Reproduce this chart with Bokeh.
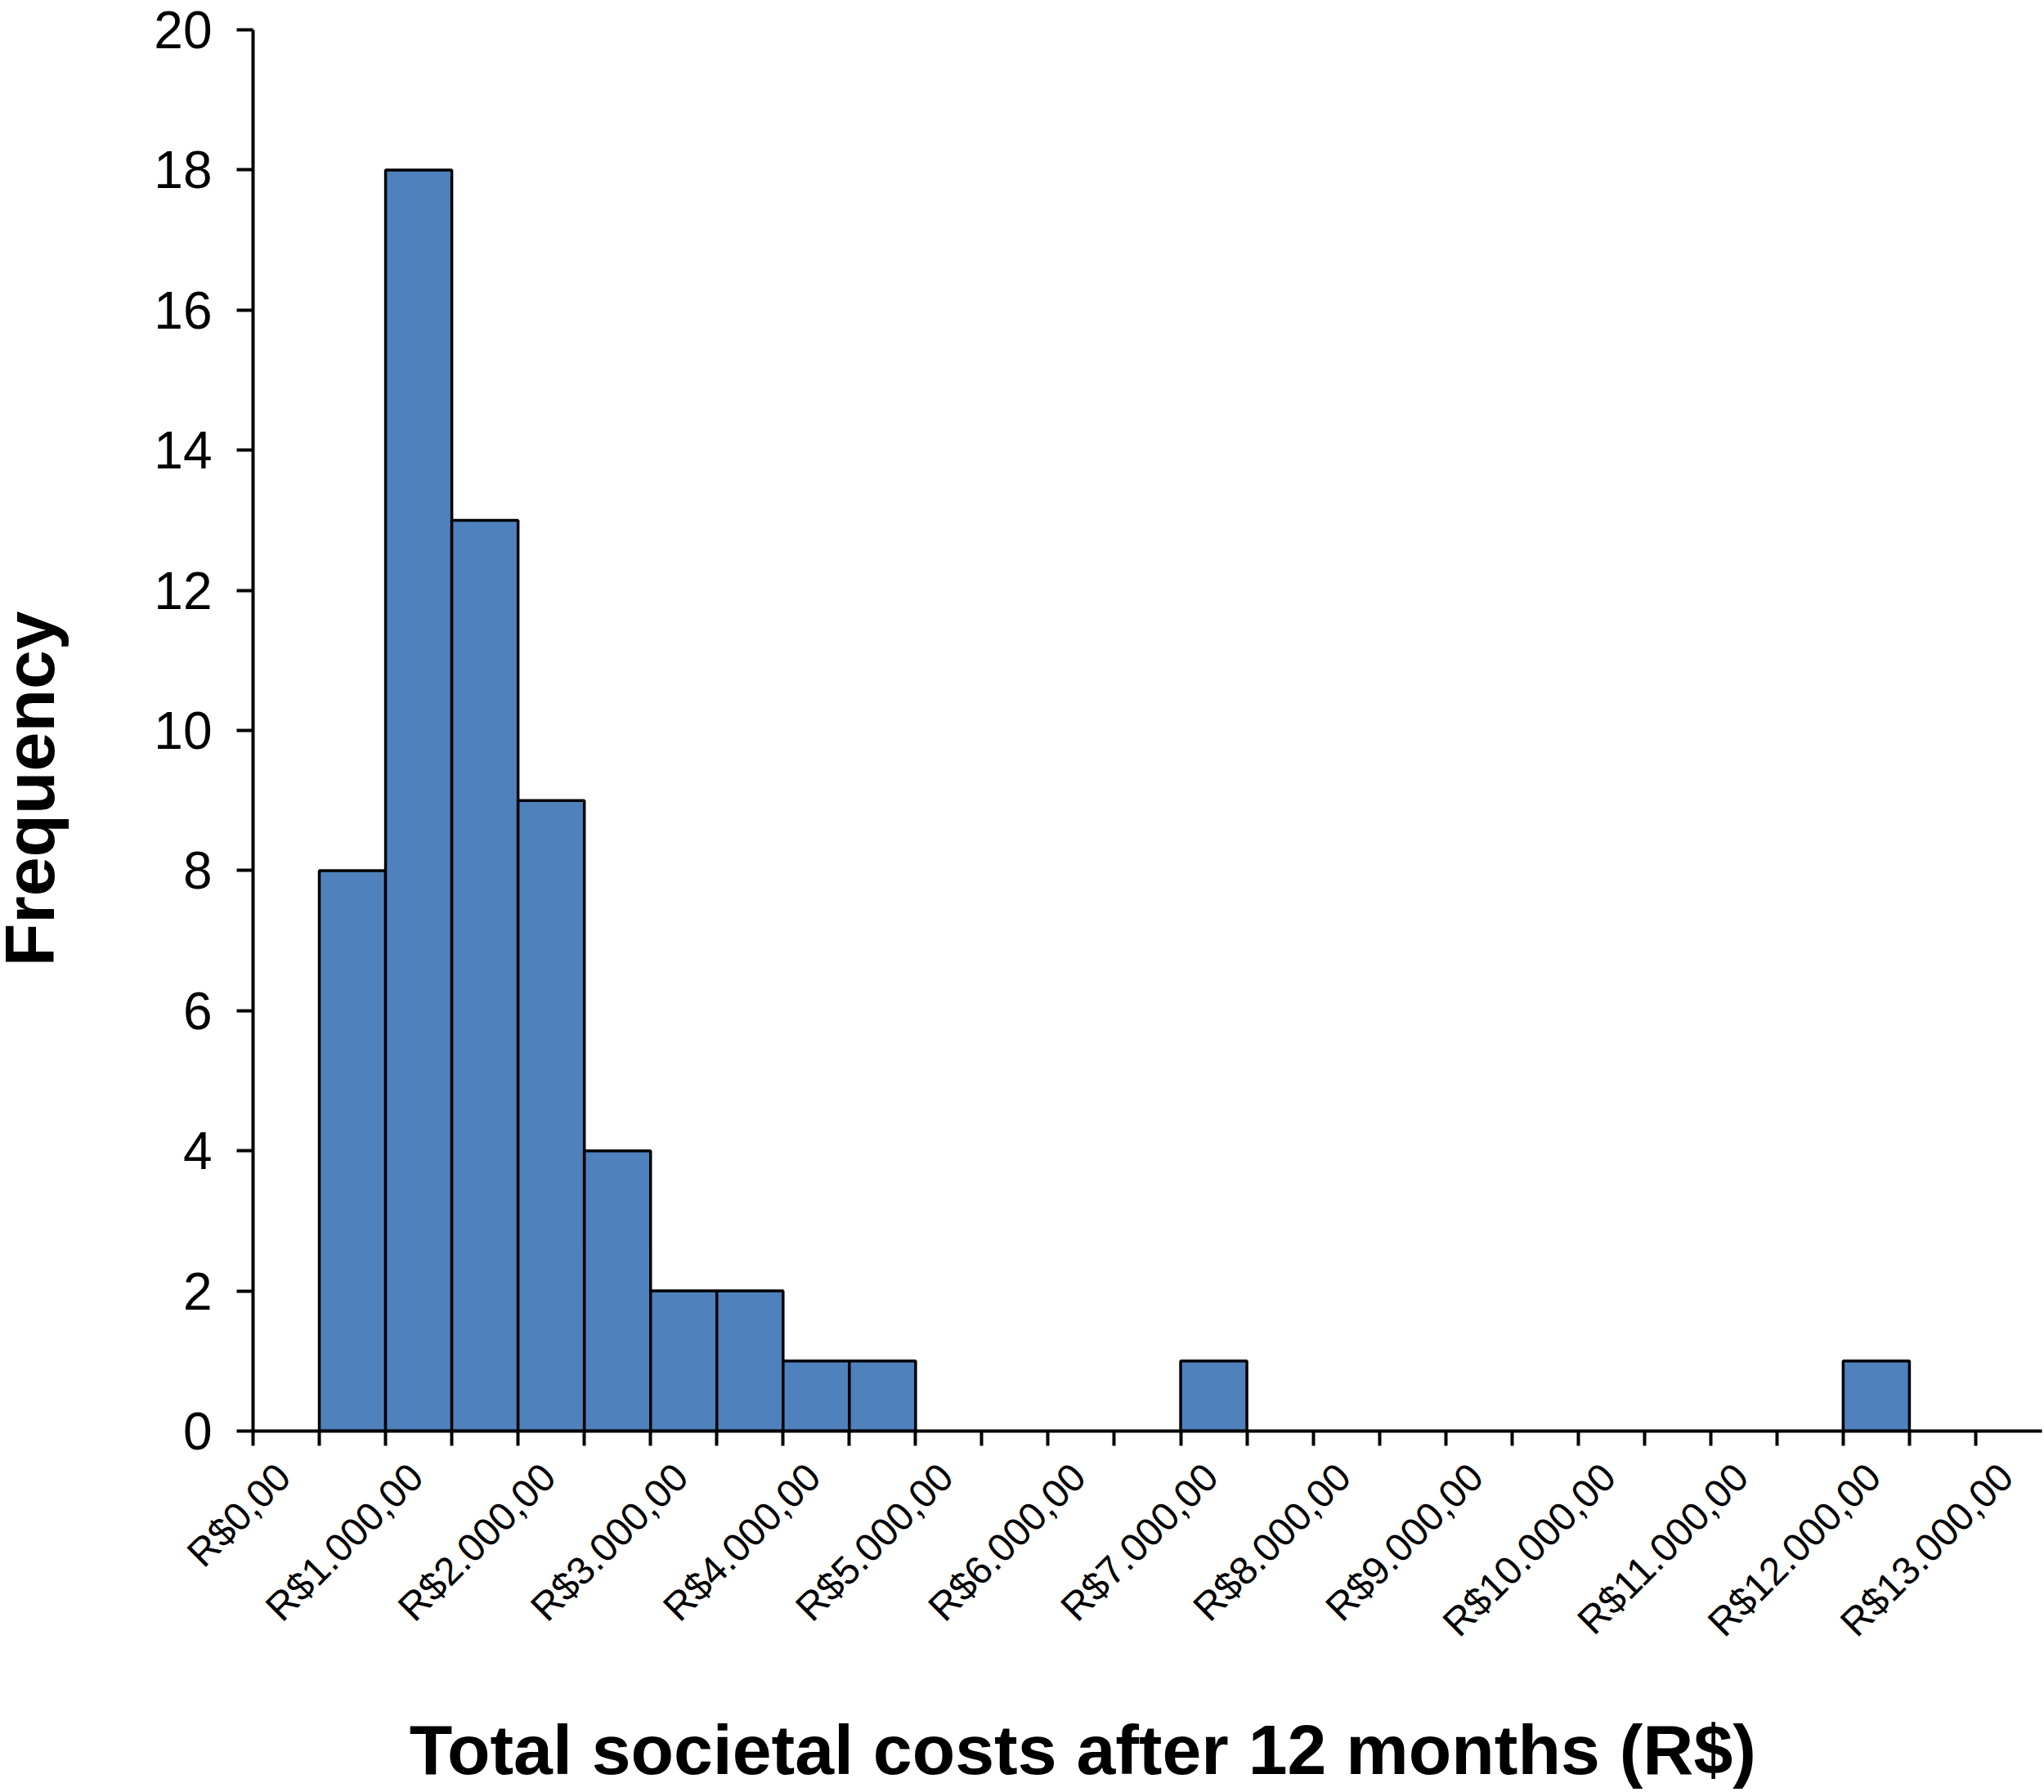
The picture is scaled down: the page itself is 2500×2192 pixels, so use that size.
from math import pi

from bokeh.plotting import figure
from bokeh.layouts import column, row
from bokeh.models import Range1d, LinearAxis, FixedTicker, Label
from bokeh.embed import file_html
from bokeh.resources import INLINE

# histogram of total societal costs (bins of R$500)
bin_left = [500, 1000, 1500, 2000, 2500, 3000, 3500, 4000, 4500, 7000, 12000]
bin_width = 500
frequency = [8, 18, 13, 9, 4, 2, 2, 1, 1, 1, 1]

x_ticks = list(range(0, 13001, 500))
label_values = list(range(0, 13001, 1000))
tick_labels = ["R$0,00", "R$1.000,00", "R$2.000,00", "R$3.000,00", "R$4.000,00",
               "R$5.000,00", "R$6.000,00", "R$7.000,00", "R$8.000,00", "R$9.000,00",
               "R$10.000,00", "R$11.000,00", "R$12.000,00", "R$13.000,00"]
y_ticks = [0, 2, 4, 6, 8, 10, 12, 14, 16, 18, 20]

x_title = "Total societal costs after 12 months (R$)"
y_title = "Frequency"

FONT = "Liberation Sans"
BAR_COLOR = "#4F81BD"
LABEL_SHIFT = 230  # Excel draws the slanted labels a bit right of their tick

TOP, BOTTOM = 36, 310      # borders of the chart figure
TITLE_W, TITLE_H = 100, 132  # strips holding the axis titles


def bare(fig):
    fig.outline_line_color = None
    fig.xgrid.grid_line_color = None
    fig.ygrid.grid_line_color = None
    return fig


p = bare(figure(width=2500 - TITLE_W, height=2192 - TITLE_H,
                x_range=Range1d(0, 13500), y_range=Range1d(0, 20),
                output_backend="svg", toolbar_location=None,
                min_border_left=209, min_border_right=3,
                min_border_top=TOP, min_border_bottom=BOTTOM))

p.quad(left=bin_left, right=[l + bin_width for l in bin_left],
       bottom=0, top=frequency,
       fill_color=BAR_COLOR, line_color="black", line_width=3.5)

# x axis: line and ticks, its own labels are not drawn
xa = p.xaxis[0]
xa.ticker = FixedTicker(ticks=x_ticks)
xa.axis_line_width = 4
xa.major_tick_line_width = 4
xa.major_tick_in = 0
xa.major_tick_out = 18
xa.minor_tick_line_color = None
xa.major_label_text_color = None
xa.major_label_text_font_size = "1px"
xa.major_label_standoff = 0

# slanted currency labels on their own axis
p.extra_x_ranges = {"labels": Range1d(-LABEL_SHIFT, 13500 - LABEL_SHIFT)}
la = LinearAxis(x_range_name="labels",
                ticker=FixedTicker(ticks=label_values),
                major_label_overrides=dict(zip(label_values, tick_labels)),
                major_label_orientation=pi / 4,
                axis_line_color=None, major_tick_line_color=None,
                minor_tick_line_color=None, major_tick_out=0, major_tick_in=0,
                major_label_standoff=30,
                major_label_text_font=FONT, major_label_text_font_size="48px",
                major_label_text_color="black")
p.add_layout(la, "below")

ya = p.yaxis[0]
ya.ticker = FixedTicker(ticks=y_ticks)
ya.axis_line_width = 4
ya.major_tick_line_width = 4
ya.major_tick_in = 0
ya.major_tick_out = 20
ya.minor_tick_line_color = None
ya.major_label_standoff = 30
ya.major_label_text_font = FONT
ya.major_label_text_font_size = "64px"
ya.major_label_text_color = "black"

# strip left of the chart, sharing its y scale, for the y title
py = bare(figure(width=TITLE_W, height=2192 - TITLE_H,
                 x_range=Range1d(0, TITLE_W), y_range=p.y_range,
                 x_axis_location=None, y_axis_location=None,
                 output_backend="svg", toolbar_location=None,
                 min_border_left=0, min_border_right=0,
                 min_border_top=TOP, min_border_bottom=BOTTOM))
py.add_layout(Label(x=35, y=6.63, angle=pi / 2, text=y_title,
                    text_font=FONT, text_font_size="86px",
                    text_font_style="bold", text_color="black",
                    text_align="left", text_baseline="alphabetic"))

# strip under the chart, sharing its x scale, for the x title
px = bare(figure(width=2500, height=TITLE_H,
                 x_range=p.x_range, y_range=Range1d(0, TITLE_H),
                 x_axis_location=None, y_axis_location=None,
                 output_backend="svg", toolbar_location=None,
                 min_border_left=TITLE_W + 209, min_border_right=3,
                 min_border_top=0, min_border_bottom=0))
px.add_layout(Label(x=1180, y=53, text=x_title, text_font=FONT,
                    text_font_size="86px", text_font_style="bold",
                    text_color="black", text_align="left",
                    text_baseline="alphabetic"))

layout = column(row(py, p), px)
open("out.html", "w").write(file_html(layout, INLINE))
